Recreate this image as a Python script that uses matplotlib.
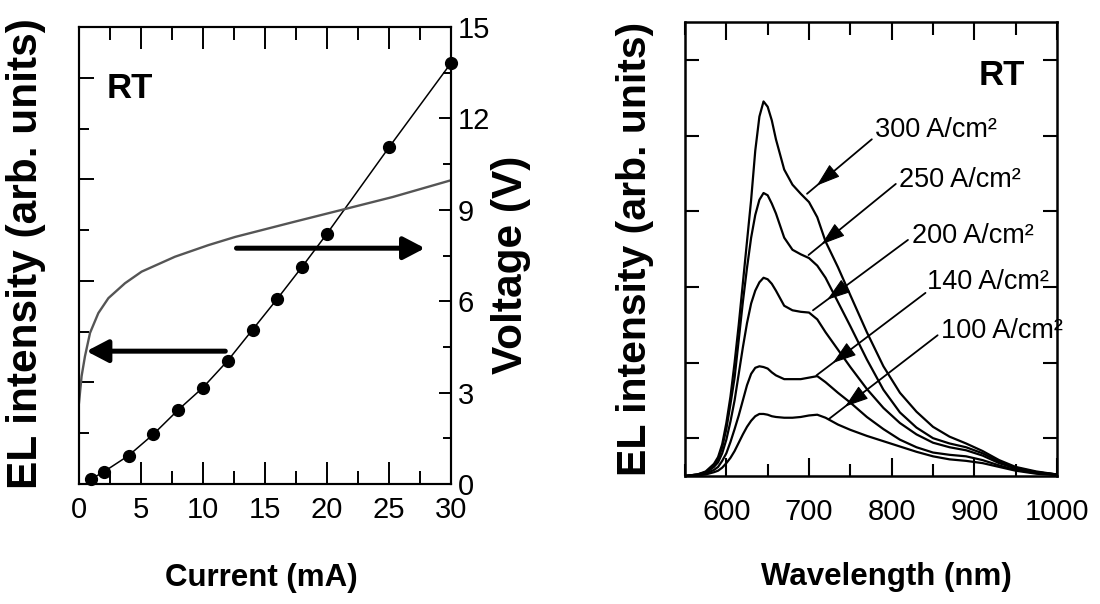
import matplotlib
matplotlib.use('Agg')
import matplotlib.pyplot as plt
from matplotlib.ticker import MultipleLocator

# ---------------- data: left panel ----------------
current_dots = [1, 2, 4, 6, 8, 10, 12, 14, 16, 18, 20, 25, 30]
el_dots = [0.10, 0.24, 0.56, 0.98, 1.46, 1.90, 2.43, 3.04, 3.65, 4.28, 4.93, 6.63, 8.29]
current_iv = [0, 0.21, 0.48, 0.89, 1.56, 2.37, 3.71, 5.05, 7.74, 10.43, 12.6, 17.3, 21.6, 25.3, 30]
voltage_iv = [2.67, 3.54, 4.19, 4.96, 5.61, 6.10, 6.59, 6.97, 7.46, 7.84, 8.11, 8.60, 9.04, 9.42, 9.97]
current_ticks = [0, 5, 10, 15, 20, 25, 30]
voltage_ticks = [0, 3, 6, 9, 12, 15]

# ---------------- data: right panel ----------------
wavelength = [550, 565, 575, 585, 590, 595, 600, 605, 610, 615, 620, 625, 630, 635, 640, 645, 650,
              655, 660, 670, 680, 690, 700, 710, 720, 735, 750, 770, 790, 810, 830, 850, 870,
              890, 910, 930, 950, 975, 1000]
el_300 = [0.0, 0.02, 0.06, 0.16, 0.25, 0.42, 0.70, 1.05, 1.50, 2.00, 2.55, 3.10, 3.65, 4.30, 4.75,
          4.95, 4.88, 4.70, 4.45, 4.05, 3.85, 3.73, 3.62, 3.42, 3.10, 2.76, 2.39, 1.90, 1.45, 1.10,
          0.85, 0.65, 0.52, 0.43, 0.33, 0.21, 0.12, 0.06, 0.02]
el_250 = [0.0, 0.02, 0.05, 0.14, 0.22, 0.38, 0.62, 0.95, 1.30, 1.80, 2.30, 2.75, 3.15, 3.45, 3.65,
          3.74, 3.71, 3.60, 3.47, 3.15, 2.99, 2.93, 2.88, 2.78, 2.62, 2.30, 1.98, 1.54, 1.14, 0.84,
          0.64, 0.50, 0.43, 0.38, 0.30, 0.19, 0.11, 0.05, 0.02]
el_200 = [0.0, 0.02, 0.04, 0.12, 0.18, 0.30, 0.48, 0.72, 1.00, 1.35, 1.70, 2.02, 2.28, 2.45, 2.56,
          2.62, 2.60, 2.54, 2.45, 2.25, 2.19, 2.17, 2.16, 2.07, 1.90, 1.67, 1.44, 1.15, 0.90, 0.70,
          0.55, 0.44, 0.38, 0.34, 0.27, 0.17, 0.10, 0.05, 0.02]
el_140 = [0.0, 0.01, 0.03, 0.08, 0.12, 0.20, 0.30, 0.45, 0.62, 0.80, 1.00, 1.20, 1.35, 1.43, 1.45,
          1.44, 1.42, 1.37, 1.33, 1.28, 1.28, 1.28, 1.30, 1.32, 1.24, 1.10, 0.97, 0.78, 0.62, 0.48,
          0.38, 0.31, 0.28, 0.26, 0.21, 0.14, 0.08, 0.04, 0.02]
el_100 = [0.0, 0.01, 0.02, 0.05, 0.07, 0.11, 0.17, 0.24, 0.33, 0.44, 0.55, 0.65, 0.73, 0.79, 0.82,
          0.82, 0.81, 0.79, 0.78, 0.77, 0.77, 0.78, 0.80, 0.81, 0.77, 0.68, 0.61, 0.53, 0.46, 0.39,
          0.32, 0.26, 0.22, 0.20, 0.17, 0.12, 0.07, 0.03, 0.01]
spectra = [el_300, el_250, el_200, el_140, el_100]
density_labels = ['300 A/cm²', '250 A/cm²', '200 A/cm²', '140 A/cm²', '100 A/cm²']
wavelength_ticks = [600, 700, 800, 900, 1000]

# ---------------- styling ----------------
FONT = ['Liberation Sans', 'DejaVu Sans']
plt.rcParams['font.family'] = FONT

W, H = 1100, 604
fig = plt.figure(figsize=(W / 100, H / 100), dpi=100)


def fx(x):
    return x / W


def fy(y):
    return 1 - y / H


tick_fs = 21

# ================= left panel =================
ax = fig.add_axes([fx(79), fy(484), 372 / W, 457 / H])
ax2 = ax.twinx()
ax.set_xlim(0, 30)
ax.set_ylim(0, 9)
ax2.set_ylim(0, 15)

ax2.plot(current_iv, voltage_iv, color='#555555', lw=1.7, zorder=2)
ax.plot(current_dots, el_dots, color='black', lw=1.1, marker='o', ms=8.5,
        markerfacecolor='black', clip_on=False, zorder=3)

ax.set_xticks(current_ticks)
ax.xaxis.set_minor_locator(MultipleLocator(2.5))
ax.yaxis.set_major_locator(MultipleLocator(2))
ax.yaxis.set_minor_locator(MultipleLocator(1))
ax.tick_params(axis='x', which='both', direction='in', top=True, bottom=True, width=1.4)
ax.tick_params(axis='x', which='major', length=16, labelsize=tick_fs, pad=9)
ax.tick_params(axis='x', which='minor', length=9.4)
ax.tick_params(axis='y', which='both', direction='in', left=True, right=False,
               labelleft=False, width=1.4)
ax.tick_params(axis='y', which='major', length=10.8)
ax.tick_params(axis='y', which='minor', length=7.0)

ax2.set_yticks(voltage_ticks)
ax2.yaxis.set_minor_locator(MultipleLocator(1.5))
ax2.tick_params(axis='y', which='both', direction='in', right=True, width=1.4)
ax2.tick_params(axis='y', which='major', length=9, labelsize=tick_fs, pad=5)
ax2.tick_params(axis='y', which='minor', length=6)

for a in (ax, ax2):
    for s in a.spines.values():
        s.set_linewidth(1.5)

# thick arrows
arrow_kw = dict(arrowstyle='-|>,head_length=0.65,head_width=0.34', lw=3.6,
                color='black', mutation_scale=20, shrinkA=0, shrinkB=0)
ax2.annotate('', xy=(27.9, 7.74), xytext=(12.7, 7.74), arrowprops=arrow_kw)
ax2.annotate('', xy=(0.6, 4.36), xytext=(11.8, 4.36), arrowprops=arrow_kw)

fig.text(fx(107), fy(98), 'RT', fontsize=25, fontweight='bold', ha='left', va='baseline')
fig.text(fx(26.5), fy(254), 'EL intensity (arb. units)', rotation=90, ha='center',
         va='center', fontsize=30.5, fontweight='bold')
fig.text(fx(511), fy(265), 'Voltage (V)', rotation=90, ha='center', va='center',
         fontsize=30.5, fontweight='bold')
fig.text(fx(261), fy(586), 'Current (mA)', ha='center', va='baseline',
         fontsize=22.5, fontweight='bold')

# ================= right panel =================
bx = fig.add_axes([fx(685), fy(476), 372 / W, 454 / H])
bx.set_xlim(550, 1000)
bx.set_ylim(0, 6)
for ys in spectra:
    bx.plot(wavelength, ys, color='black', lw=1.6)

bx.set_xticks(wavelength_ticks)
bx.xaxis.set_minor_locator(MultipleLocator(50))
bx.set_yticks([0.5, 1.5, 2.5, 3.5, 4.5, 5.5])
bx.tick_params(axis='x', which='both', direction='in', top=True, bottom=True, width=1.5)
bx.tick_params(axis='x', which='major', length=13, labelsize=tick_fs, pad=16)
bx.tick_params(axis='x', which='minor', length=9)
bx.tick_params(axis='y', which='both', direction='in', left=True, right=True,
               labelleft=False, length=10, width=1.5)
for s in bx.spines.values():
    s.set_linewidth(1.8)

# thin arrows from labels to curves
line_start = [(776, 4.45), (805, 3.86), (819.7, 3.12), (840.9, 2.42), (855.6, 1.86)]
line_end = [(697.6, 3.73), (699.4, 2.92), (704.8, 2.19), (709.0, 1.33), (723.7, 0.75)]
label_px = [(875, 137), (899, 187), (912, 243), (927, 289), (941, 338)]
head_kw = dict(arrowstyle='-|>,head_length=0.75,head_width=0.25', lw=0.8,
               color='black', mutation_scale=20, shrinkA=0, shrinkB=0)
for (x0, y0), (x1, y1), (lx, ly), txt in zip(line_start, line_end, label_px, density_labels):
    bx.annotate('', xy=(x1, y1), xytext=(x0, y0),
                arrowprops=dict(arrowstyle='-', lw=1.3, color='black', shrinkA=0, shrinkB=0))
    f_tip, f_tail = 0.15, 0.32
    tip = (x1 + f_tip * (x0 - x1), y1 + f_tip * (y0 - y1))
    tail = (x1 + f_tail * (x0 - x1), y1 + f_tail * (y0 - y1))
    bx.annotate('', xy=tip, xytext=tail, arrowprops=head_kw)
    fig.text(fx(lx), fy(ly), txt, fontsize=19.5, ha='left', va='baseline')

fig.text(fx(1025), fy(85), 'RT', fontsize=25, fontweight='bold', ha='right', va='baseline')
fig.text(fx(635), fy(249), 'EL intensity (arb. units)', rotation=90, ha='center',
         va='center', fontsize=29.5, fontweight='bold')
fig.text(fx(886), fy(585), 'Wavelength (nm)', ha='center', va='baseline',
         fontsize=22.5, fontweight='bold')

fig.savefig('out.png', dpi=100)
